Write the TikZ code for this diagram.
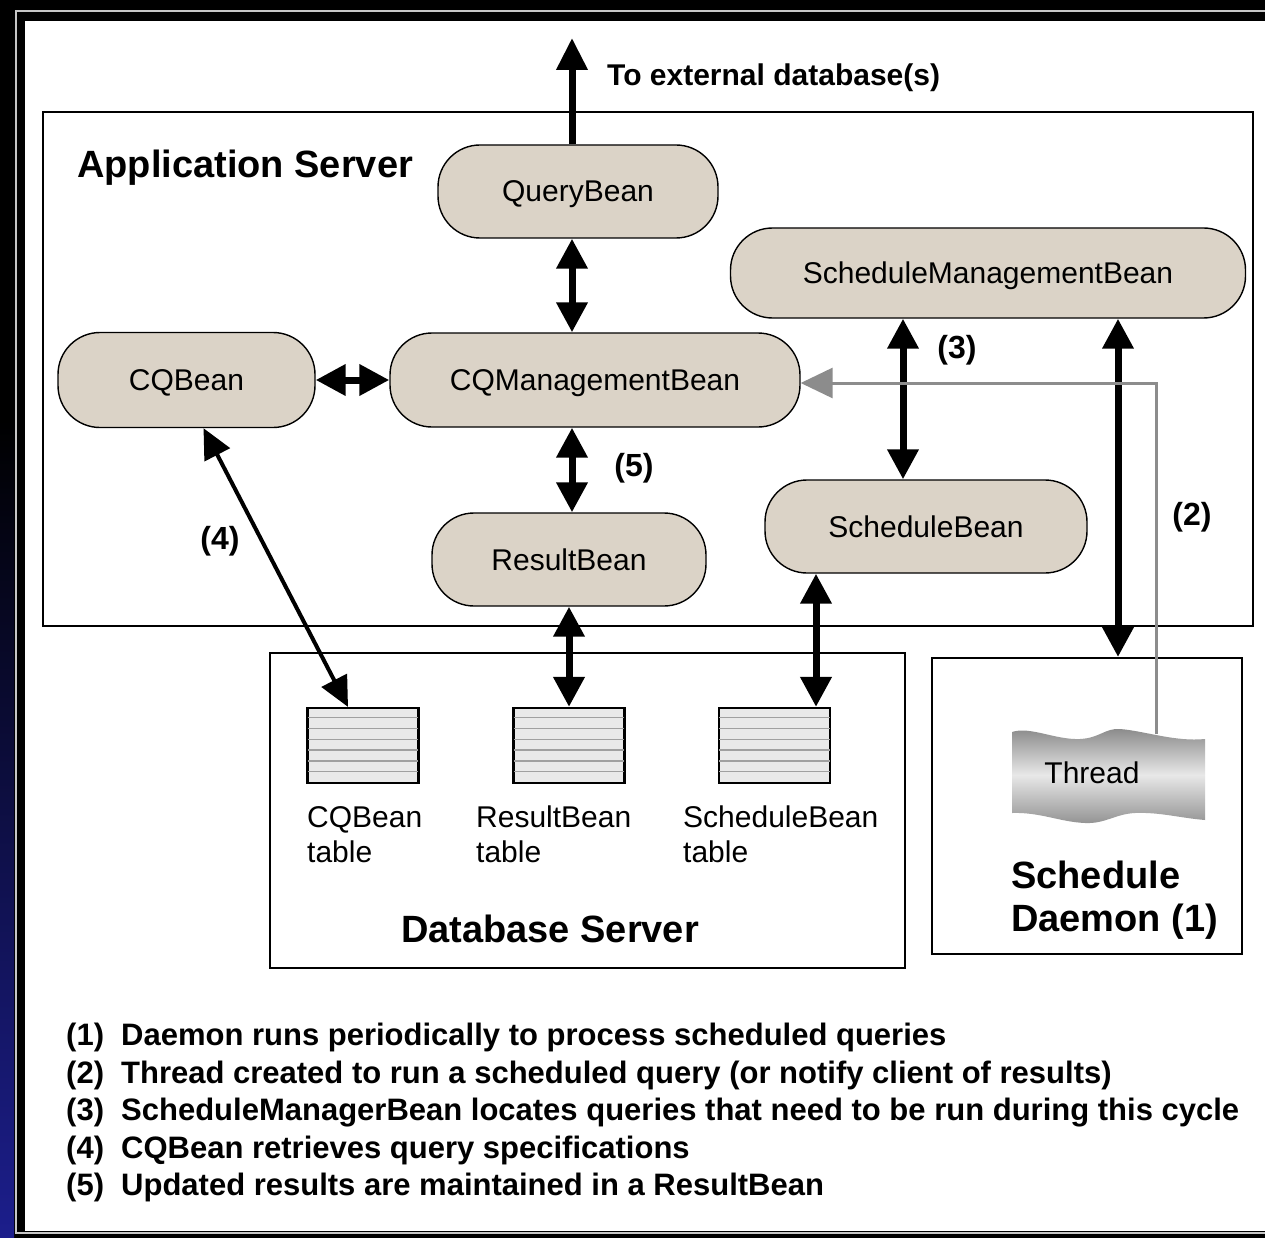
\documentclass[tikz,border=0pt]{standalone}
\usepackage{fontspec}
\setmainfont{Liberation Sans}
\usetikzlibrary{arrows.meta,calc}

\definecolor{beanfill}{RGB}{219,211,199}
\definecolor{framenavy}{RGB}{28,30,140}
\definecolor{feedgray}{RGB}{140,140,140}
\definecolor{rowgray}{RGB}{160,160,160}
\definecolor{tablefill}{RGB}{233,233,233}

\tikzset{
  bean/.style={draw=black, line width=1.4pt, fill=beanfill, rounded corners=42pt,
    inner sep=0pt, text height=21pt, text depth=0pt, font=\fontsize{30}{36}\selectfont},
  tier/.style={draw=black, line width=2pt, inner sep=0pt},
  dbtable/.style={draw=black, line width=2.2pt, fill=tablefill,
    minimum width=111pt, minimum height=75pt, inner sep=0pt},
  rowline/.style={draw=rowgray, line width=1.4pt},
  link/.style={line width=7pt,
    {Triangle[length=30pt,width=30pt]}-{Triangle[length=30pt,width=30pt]}},
  thinlink/.style={line width=4pt,
    {Triangle[length=30pt,width=28pt]}-{Triangle[length=30pt,width=28pt]}},
  uplink/.style={line width=7pt, -{Triangle[length=32pt,width=30pt]}},
  feed/.style={draw=feedgray, line width=3pt, -{Triangle[length=32pt,width=30pt]}},
  hint/.style={font=\bfseries\fontsize{32}{36}\selectfont, inner sep=0pt},
  heading/.style={font=\bfseries\fontsize{38}{44}\selectfont, anchor=base west, inner sep=0pt},
  caption/.style={font=\fontsize{30}{36}\selectfont, anchor=base west, inner sep=0pt},
  legend/.style={font=\bfseries\fontsize{31}{36}\selectfont, anchor=base west, inner sep=0pt},
}

\begin{document}
\begin{tikzpicture}[x=1pt,y=-1pt]
\useasboundingbox (0,0) rectangle (1265,1238);

% slide frame
\fill[black] (0,0) rectangle (1265,1238);
\shade[top color=black, bottom color=framenavy] (0,420) rectangle (14,1238);
\fill[white] (25,21) rectangle (1265,1231);
\draw[gray!45, line width=2pt] (1265,11.5) -- (16,11.5) -- (16,1232.5) -- (1265,1232.5);

% tiers
\node[tier, minimum width=1210pt, minimum height=514pt] (app) at (648,369) {};
\node[tier, minimum width=635pt, minimum height=315pt] (dbs) at (587.5,810.5) {};
\node[tier, minimum width=310pt, minimum height=296pt] (sd) at (1087,806) {};

\node[heading] (apptitle) at (77,178) {Application Server};
\node[heading, anchor=base] (dbstitle) at (550,942) {Database Server};
\node[heading] (sdtitle1) at (1011,888) {Schedule};
\node[heading] (sdtitle2) at (1011,931) {Daemon (1)};

% beans
\node[bean, minimum width=280pt, minimum height=93pt] (qb)  at (578,191.5) {QueryBean};
\node[bean, minimum width=515pt, minimum height=90pt] (smb) at (988,273) {ScheduleManagementBean};
\node[bean, minimum width=257pt, minimum height=95pt] (cqb) at (186.5,380) {CQBean};
\node[bean, minimum width=410pt, minimum height=94pt] (cqm) at (595,380) {CQManagementBean};
\node[bean, minimum width=274pt, minimum height=93pt] (rb)  at (569,559.5) {ResultBean};
\node[bean, minimum width=322pt, minimum height=93pt] (sb)  at (926,526.5) {ScheduleBean};

% database tables
\node[dbtable] (t1) at (363,745.5) {};
\node[dbtable] (t2) at (569,745.5) {};
\node[dbtable] (t3) at (774.5,745.5) {};
\foreach \t in {t1,t2,t3}{
  \foreach \k in {1,...,6}{
    \draw[rowline] ($(\t.north west)+(1.5,\k*10.8)$) -- ($(\t.north east)+(-1.5,\k*10.8)$);
  }
}
\node[caption] (c1a) at (307,827) {CQBean};
\node[caption] (c1b) at (307,862) {table};
\node[caption] (c2a) at (476,827) {ResultBean};
\node[caption] (c2b) at (476,862) {table};
\node[caption] (c3a) at (683,827) {ScheduleBean};
\node[caption] (c3b) at (683,862) {table};

% worker thread
\shade[top color=gray!95, bottom color=gray!85, middle color=gray!18, shading angle=0]
  (1012,732) .. controls (1030,726) and (1055,740) .. (1080,739)
  .. controls (1100,738) and (1105,728) .. (1120,729)
  .. controls (1145,731) and (1175,742) .. (1205,739)
  -- (1205,820)
  .. controls (1180,818) and (1160,812) .. (1135,813)
  .. controls (1115,814) and (1105,824) .. (1085,823)
  .. controls (1060,822) and (1040,812) .. (1012,813) -- cycle;
\node[caption, anchor=center] (thr) at (1092,773) {Thread};
\coordinate (thtop) at (1156,734);

% connectors
\coordinate (ext) at (572,38);
\coordinate (x3) at (903,0);
\coordinate (x6) at (816,0);
\coordinate (x2) at (1118,0);
\draw[uplink] (qb.north -| ext) -- (ext);
\draw[link] (qb.south -| ext) -- (cqm.north -| ext);
\draw[link] (cqm.south -| ext) -- (rb.north -| ext);
\draw[link] (cqb.east) -- (cqm.west);
\draw[link] (rb.south) -- (t2.north);
\draw[thinlink] ([xshift=17pt]cqb.south) -- ([xshift=-15pt]t1.north);
\draw[link] (smb.south -| x3) -- (sb.north -| x3);
\draw[link] (sb.south -| x6) -- (t3.north -| x6);
\draw[link] (smb.south -| x2) -- (sd.north -| x2);
\draw[feed] (thtop) |- ([yshift=-3pt]cqm.east);

% connector labels
\node[font=\bfseries\fontsize{30}{36}\selectfont, anchor=base west, inner sep=0pt] (extlbl) at (607,86) {To external database(s)};
\node[hint] (h3) at (957,350) {(3)};
\node[hint] (h5) at (634,468) {(5)};
\node[hint] (h4) at (220,541) {(4)};
\node[hint] (h2) at (1192,517) {(2)};

% legend
\node[legend] (n1) at (66,1045) {(1)};
\node[legend] (l1) at (121,1045) {Daemon runs periodically to process scheduled queries};
\node[legend] (n2) at (66,1083) {(2)};
\node[legend] (l2) at (121,1083) {Thread created to run a scheduled query (or notify client of results)};
\node[legend] (n3) at (66,1120) {(3)};
\node[legend] (l3) at (121,1120) {ScheduleManagerBean locates queries that need to be run during this cycle};
\node[legend] (n4) at (66,1158) {(4)};
\node[legend] (l4) at (121,1158) {CQBean retrieves query specifications};
\node[legend] (n5) at (66,1195) {(5)};
\node[legend] (l5) at (121,1195) {Updated results are maintained in a ResultBean};
\end{tikzpicture}
\end{document}
